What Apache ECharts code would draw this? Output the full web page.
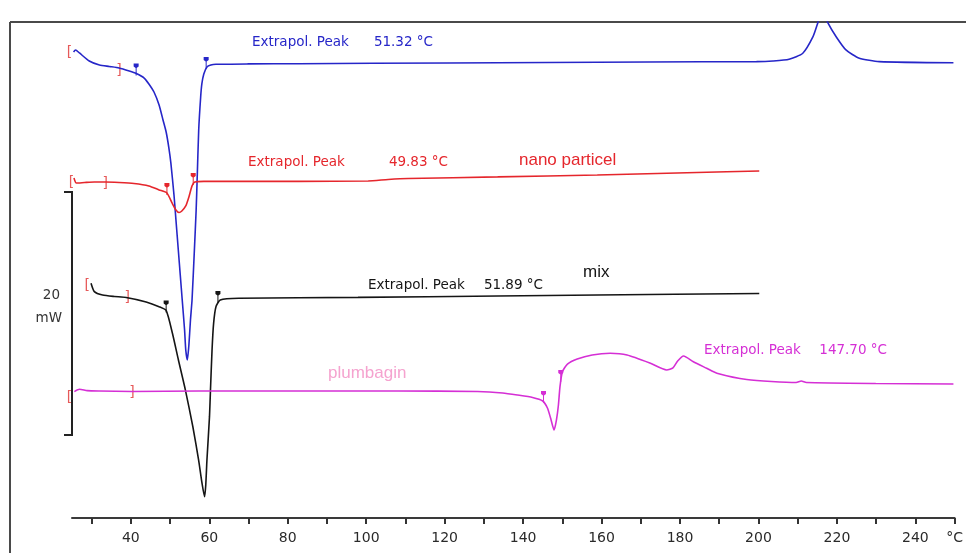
<!DOCTYPE html>
<html>
<head>
<meta charset="utf-8">
<script src="https://cdn.jsdelivr.net/npm/echarts@6/dist/echarts.min.js"></script>
<style>
html, body { margin: 0; padding: 0; background: #fff; }
#chart { width: 966px; height: 553px; }
</style>
</head>
<body>
<div id="chart"></div>
<script>
// DSC heat-flow traces: [temperature °C, heat flow mW] (traces stacked with offsets)
const trace1 = [
  [25.4,38.35],[25.9,38.52],[26.9,38.27],[29.4,37.61],[32.0,37.28],[34.5,37.16],[37.0,37.04],
  [39.6,36.79],[41.4,36.58],[43.4,36.21],[44.6,35.72],[45.9,35.06],[47.2,33.99],[48.2,32.76],
  [49.0,31.77],[49.7,30.45],[50.2,29.22],[51.0,26.58],[51.5,24.53],[52.1,22.06],[52.6,20.0],
  [53.1,17.94],[53.7,15.47],[54.0,13.83],[54.4,13.0],[54.8,14.24],[55.2,16.30],[55.6,17.94],
  [56.2,22.06],[56.65,25.35],[56.9,27.82],[57.3,31.93],[57.8,34.65],[58.1,35.72],[58.6,36.54],
  [59.4,37.12],[60.4,37.28],[61.7,37.34],[70.0,37.37],[82.8,37.39],[120.8,37.45],[171.6,37.53],
  [199.5,37.56],[203.7,37.61],[207.8,37.75],[211.3,38.25],[213.9,39.61],[215.1,40.72],[216.2,41.9],
  [217.7,40.74],[219.8,39.61],[222.3,38.52],[225.7,37.84],[230.8,37.56],[249.7,37.47]
];
const nanoParticle = [
  [25.5,27.98],[26.1,27.57],[28.2,27.61],[30.7,27.65],[33.5,27.65],[37.0,27.61],[40.8,27.53],
  [44.6,27.33],[47.2,27.0],[49.2,26.75],[50.5,25.93],[51.5,25.35],[52.3,25.14],[53.0,25.27],
  [54.0,25.68],[54.8,26.42],[55.6,27.33],[56.3,27.65],[58.6,27.70],[82.7,27.70],[100.5,27.74],
  [105.6,27.86],[110.7,27.94],[133.5,28.07],[158.9,28.23],[184.3,28.44],[200.2,28.56]
];
const mix = [
  [29.85,19.32],[30.7,18.63],[32.8,18.35],[35.8,18.23],[38.8,18.15],[43.9,17.78],[47.2,17.39],
  [49.0,17.08],[50.6,15.20],[52.13,13.00],[53.91,10.53],[55.81,7.51],[57.28,4.77],[58.1,2.96],
  [58.8,1.75],[59.1,2.72],[59.4,4.77],[60.05,8.34],[60.3,10.53],[60.7,13.83],[61.1,16.02],
  [61.7,17.39],[62.8,17.94],[67.5,18.08],[97.9,18.16],[133.5,18.27],[158.9,18.35],[200.2,18.48]
];
const plumbagin = [
  [25.6,10.40],[26.9,10.59],[28.9,10.48],[32.0,10.45],[40.3,10.41],[57.3,10.45],[82.7,10.45],
  [108.1,10.45],[128.4,10.41],[134.8,10.29],[138.6,10.12],[142.4,9.92],[145.0,9.63],[146.2,9.05],
  [147.0,8.23],[147.9,7.24],[148.5,8.07],[149.0,9.30],[149.4,10.81],[150.0,12.02],[151.3,12.67],
  [153.8,13.09],[157.6,13.42],[162.2,13.56],[166.5,13.42],[172.3,12.76],[176.6,12.18],[178.2,12.35],
  [179.4,12.92],[180.9,13.33],[183.4,12.86],[186.8,12.32],[189.4,11.91],[197.0,11.40],[209.6,11.15],
  [210.9,11.27],[212.2,11.15],[229.9,11.07],[249.7,11.03]
];

// Onset / endset flags on each trace
const flags1 = [[41.35,36.58],[59.2,37.12]];
const flagsNano = [[49.2,26.75],[55.9,27.57]];
const flagsMix = [[49.0,17.08],[62.2,17.86]];
const flagsPlumbagin = [[145.2,9.63],[149.6,11.36]];

// Integration limits: [temperature, heat flow, bracket]
const limits = [
  [24.35,38.35,'['],[37.0,36.87,']'],
  [24.85,27.65,'['],[33.5,27.57,']'],
  [28.9,19.18,'['],[39.1,18.19,']'],
  [24.35,9.96,'['],[40.3,10.37,']']
];

// Axis ticks and labels
const tickValues = [30,40,50,60,70,80,90,100,110,120,130,140,150,160,170,180,190,200,210,220,230,240,250];
const labelValues = [40,60,80,100,120,140,160,180,200,220,240,250];
const unitLabel = '°C';

// Heat-flow scale bar (mW)
const scaleBar = [6.83, 26.83];
const scaleBarText = ['20', 'mW'];

(function () {
  const colors = { blue: '#2626c8', red: '#e5262c', black: '#151515', magenta: '#d52fd5' };
  const flagPath = 'path://M0.5,0 L4.5,0 L4.5,3 L2.9,4.6 L2.9,12 L2.1,12 L2.1,4.6 L0.5,3 Z';

  function traceSeries(name, data, color, flags) {
    return {
      name, type: 'line', data, showSymbol: false, smooth: 0.2, clip: true,
      lineStyle: { color, width: 1.6 },
      silent: true,
      markPoint: {
        symbol: flagPath, symbolSize: [5, 12], symbolOffset: [0, -4],
        itemStyle: { color }, label: { show: false },
        data: flags.map(p => ({ coord: p }))
      }
    };
  }

  const chart = echarts.init(document.getElementById('chart'));
  chart.setOption({
    animation: false,
    backgroundColor: '#fff',
    grid: { left: 72, right: 7, top: 22, bottom: 35 },
    xAxis: {
      type: 'value', min: 25, max: 250,
      axisLine: { lineStyle: { color: '#3a3a3a', width: 2 } },
      axisTick: { customValues: tickValues, length: 6, lineStyle: { color: '#333', width: 2 } },
      axisLabel: {
        customValues: labelValues,
        formatter: v => (v === 250 ? unitLabel : String(v)),
        color: '#2a2a2a', fontSize: 14, fontFamily: 'DejaVu Sans', margin: 13
      },
      splitLine: { show: false }
    },
    yAxis: { type: 'value', min: 0, max: 40.82, show: false },
    series: [
      traceSeries('trace1', trace1, colors.blue, flags1),
      traceSeries('nano particel', nanoParticle, colors.red, flagsNano),
      traceSeries('mix', mix, colors.black, flagsMix),
      traceSeries('plumbagin', plumbagin, colors.magenta, flagsPlumbagin),
      {
        type: 'scatter', clip: false, silent: true, symbolSize: 1,
        itemStyle: { color: 'rgba(0,0,0,0)' },
        data: limits.map(l => ({ value: [l[0], l[1]], mark: l[2] })),
        label: {
          show: true, position: 'inside', color: '#e03030', fontSize: 14, fontFamily: 'DejaVu Sans',
          formatter: p => p.data.mark
        }
      }
    ]
  });

  // Scale bar and annotations
  const barTop = chart.convertToPixel({ gridIndex: 0 }, [25, scaleBar[1]]);
  const barBot = chart.convertToPixel({ gridIndex: 0 }, [25, scaleBar[0]]);
  const bx = Math.round(barTop[0]);
  const annFont = 'DejaVu Sans';
  function ann(x, y, text, color, size, align, family) {
    return { type: 'text', x, y, style: { text, fill: color, font: `${size}px "${family || annFont}"`, textAlign: align || 'left', textVerticalAlign: 'middle' } };
  }
  chart.setOption({
    graphic: [
      { type: 'line', shape: { x1: 10, y1: 22, x2: 966, y2: 22 }, style: { stroke: '#4a4a4a', lineWidth: 2 } },
      { type: 'line', shape: { x1: 10, y1: 22, x2: 10, y2: 553 }, style: { stroke: '#4a4a4a', lineWidth: 2 } },
      { type: 'polyline', shape: { points: [[bx - 8, barTop[1]], [bx, barTop[1]], [bx, barBot[1]], [bx - 8, barBot[1]]] }, style: { stroke: '#222', lineWidth: 2, fill: null } },
      ann(60, 295, scaleBarText[0], '#333', 13.5, 'right'),
      ann(62, 318, scaleBarText[1], '#333', 13.5, 'right'),
      ann(252, 42, 'Extrapol. Peak', colors.blue, 13.5),
      ann(433, 42, '51.32 °C', colors.blue, 13.5, 'right'),
      ann(248, 162, 'Extrapol. Peak', colors.red, 13.5),
      ann(448, 162, '49.83 °C', colors.red, 13.5, 'right'),
      ann(519, 160, 'nano particel', colors.red, 17, 'left', 'Liberation Sans'),
      ann(368, 285, 'Extrapol. Peak', colors.black, 13.5),
      ann(543, 285, '51.89 °C', colors.black, 13.5, 'right'),
      ann(583, 272, 'mix', colors.black, 17, 'left', 'Liberation Sans'),
      ann(328, 373, 'plumbagin', '#f5a3cf', 17, 'left', 'Liberation Sans'),
      ann(704, 350, 'Extrapol. Peak', colors.magenta, 13.5),
      ann(887, 350, '147.70 °C', colors.magenta, 13.5, 'right')
    ]
  });
})();
</script>
</body>
</html>
